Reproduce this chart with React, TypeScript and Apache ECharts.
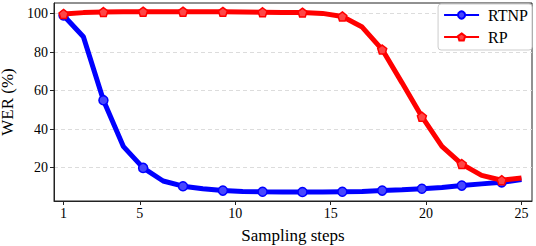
import React, { useEffect, useRef } from "react";
import * as echarts from "echarts";

const steps = [1, 2.04, 3.09, 4.13, 5.17, 6.22, 7.26, 8.3, 9.35, 10.39, 11.43, 12.48, 13.52, 14.57, 15.61, 16.65, 17.7, 18.74, 19.78, 20.83, 21.87, 22.91, 23.96, 25];
const rtnp = [99, 88, 55, 31, 19.8, 13, 10.3, 9, 8, 7.6, 7.4, 7.3, 7.3, 7.3, 7.4, 7.5, 8, 8.4, 9, 9.6, 10.6, 11.5, 12.3, 13.7];
const rp = [99.8, 100.5, 100.8, 101, 101, 101, 101, 101, 100.9, 100.8, 100.7, 100.6, 100.5, 100.1, 98.5, 93, 81.3, 64, 46.4, 31, 21.8, 15.9, 13.4, 14.6];
const xTicks = [1, 5, 10, 15, 20, 25];
const yTicks = [20, 40, 60, 80, 100];

const FONT = "Liberation Serif";
const PENTAGON = "path://M0,-1 L0.951,-0.309 L0.588,0.809 L-0.588,0.809 L-0.951,-0.309 Z";

function mkData(vals: number[]) {
  return vals.map((v, i) => (i % 2 === 0 ? [steps[i], v] : { value: [steps[i], v], symbol: "none" }));
}

export default function App() {
  const ref = useRef<HTMLDivElement>(null);
  useEffect(() => {
    if (!ref.current) return;
    const chart = echarts.init(ref.current, null, { renderer: "svg" });
    chart.setOption({
      animation: false,
      textStyle: { fontFamily: FONT },
      grid: {
        left: 54,
        right: 4,
        top: 3,
        bottom: 45,
        containLabel: false,
        outerBoundsMode: "none",
        show: true,
        borderColor: "#222",
        borderWidth: 1,
        backgroundColor: "transparent",
      },
      legend: {
        right: 4,
        top: 4,
        orient: "vertical",
        itemWidth: 35,
        itemHeight: 9,
        itemGap: 6,
        padding: [3, 4, 5, 5],
        backgroundColor: "#fff",
        borderColor: "#ccc",
        borderWidth: 1,
        borderRadius: 3,
        textStyle: { fontFamily: FONT, fontSize: 16, color: "#000", lineHeight: 16, padding: [0, 0, 0, 4] },
        data: ["RTNP", "RP"],
      },
      xAxis: {
        type: "value",
        min: 0.5,
        max: 25.55,
        name: "Sampling steps",
        nameLocation: "middle",
        nameGap: 26,
        nameTextStyle: { fontFamily: FONT, fontSize: 17, color: "#000" },
        axisLine: { show: true, lineStyle: { color: "#222", width: 1 } },
        axisTick: { show: true, inside: false, length: 4, customValues: xTicks, lineStyle: { color: "#222" } },
        axisLabel: { customValues: xTicks, fontFamily: FONT, fontSize: 14, color: "#000", margin: 5 },
        splitLine: { show: false },
      },
      yAxis: {
        type: "value",
        min: 2.6,
        max: 105.5,
        name: "WER (%)",
        nameLocation: "middle",
        nameGap: 31,
        nameTextStyle: { fontFamily: FONT, fontSize: 17, color: "#000", lineHeight: 17 },
        axisLine: { show: true, lineStyle: { color: "#222", width: 1 } },
        axisTick: { show: true, inside: false, length: 4, customValues: yTicks, lineStyle: { color: "#222" } },
        axisLabel: { customValues: yTicks, fontFamily: FONT, fontSize: 14, color: "#000", margin: 6 },
        splitLine: { show: true, lineStyle: { color: "#dcdcdc", type: [4, 3], width: 1 } },
      },
      series: [
        {
          name: "RTNP",
          type: "line",
          data: mkData(rtnp),
          symbol: "circle",
          symbolSize: 9,
          showAllSymbol: true,
          lineStyle: { color: "#0000ff", width: 5 },
          itemStyle: { color: "rgba(70,70,255,1)", borderColor: "#0000ff", borderWidth: 1.5 },
          z: 2,
        },
        {
          name: "RP",
          type: "line",
          data: mkData(rp),
          symbol: PENTAGON,
          symbolSize: 9,
          showAllSymbol: true,
          lineStyle: { color: "#ff0000", width: 5 },
          itemStyle: { color: "rgba(255,70,70,1)", borderColor: "#ff0000", borderWidth: 1.5 },
          z: 3,
        },
      ],
    });
    return () => chart.dispose();
  }, []);
  return <div ref={ref} style={{ width: 536, height: 246, position: "absolute", left: 0, top: 0 }} />;
}
